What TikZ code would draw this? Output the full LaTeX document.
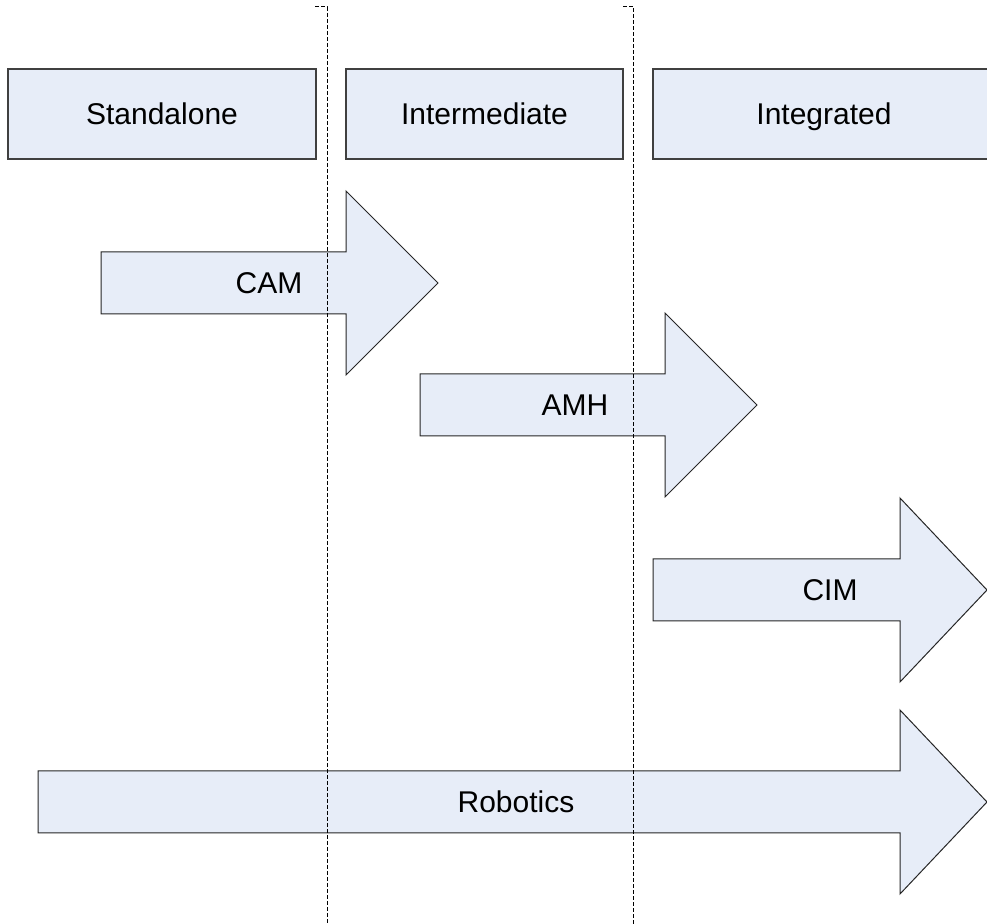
\documentclass[tikz,border=0pt]{standalone}
\usepackage{fontspec}
\setmainfont{Liberation Sans}
\usepackage{tikz}
\usetikzlibrary{positioning}
\definecolor{phasefill}{RGB}{231,237,248}
\tikzset{
  phase/.style={draw=black!75, line width=0.8pt, fill=phasefill},
  trend/.style={draw=black!85, line width=0.5pt, fill=phasefill, line join=miter},
  divider/.style={draw=black, line width=0.5pt, dash pattern=on 2pt off 1pt},
  lbl/.style={font=\fontsize{15}{18}\selectfont, inner sep=0pt, text height=10.7pt, text depth=0pt}
}
\begin{document}
\begin{tikzpicture}[x=0.5pt, y=-0.5pt]
            \useasboundingbox (0,0) rectangle (987,924);
            \clip (0,0) rectangle (987,924);
            % phases
            \foreach \xl/\xr/\name/\txt in {8/316/stand/Standalone, 346/623/inter/Intermediate, 653/995/integ/Integrated}{%
                    \draw[phase] (\xl,69) rectangle (\xr,159);
                    \node[lbl] (\name) at ({(\xl+\xr)/2},114) {\txt};
                }
            % technologies
            \foreach \xa/\xb/\xt/\yc/\lx/\name/\txt in {101/346/438/283/269/cam/CAM, 420/665/757/405/575/amh/AMH, 653/900/987/590/830/cim/CIM, 38/900/987/802/516/rob/Robotics}{%
                    \draw[trend] (\xa,\yc-31) -- (\xb,\yc-31) -- (\xb,\yc-92) -- (\xt,\yc)
                        -- (\xb,\yc+92) -- (\xb,\yc+31) -- (\xa,\yc+31) -- cycle;
                    \node[lbl] (\name) at (\lx,\yc) {\txt};
                }
            % borders between phases
            \coordinate (b1) at (315,7);
            \coordinate (b2) at (623,7);
            \draw[divider] (b1) -| (327,924);
            \draw[divider] (b2) -| (633.5,924);
        \end{tikzpicture}
\end{document}
